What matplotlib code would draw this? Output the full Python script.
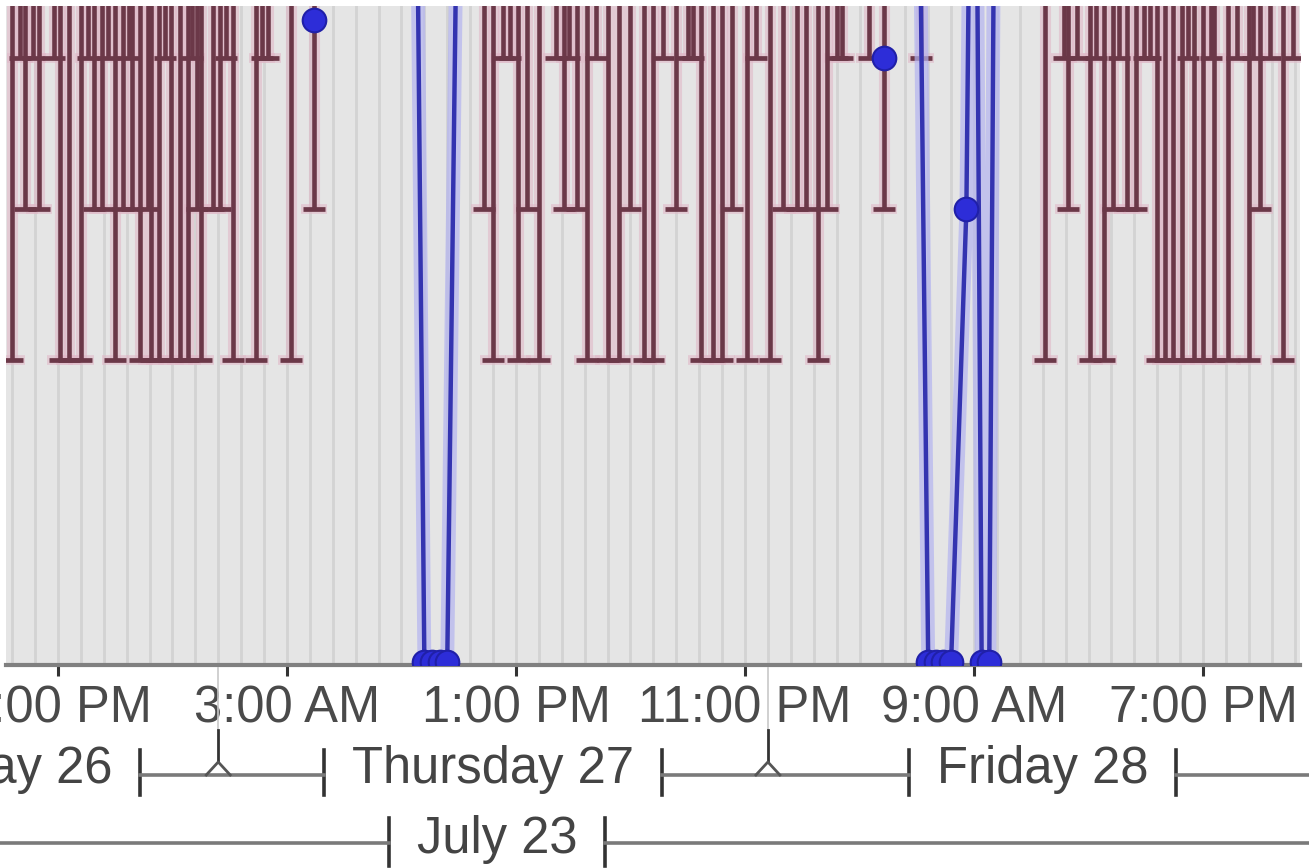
import numpy as np
import pandas as pd
import matplotlib
matplotlib.use("Agg")
import matplotlib.pyplot as plt
import matplotlib.dates as mdates
from matplotlib.transforms import blended_transform_factory

W, H, DPI = 1309, 868, 100

# interval bars (dark red): time and lower end, upper end is off the chart
bar_times = [
    "07-26 15:00", "07-26 15:20", "07-26 15:35", "07-26 15:55", "07-26 16:10",
    "07-26 16:50", "07-26 17:05", "07-26 17:30", "07-26 18:00", "07-26 18:20",
    "07-26 18:35", "07-26 18:55", "07-26 19:10", "07-26 19:30", "07-26 19:50",
    "07-26 20:05", "07-26 20:15", "07-26 20:35", "07-26 20:55", "07-26 21:05",
    "07-26 21:25", "07-26 21:40", "07-26 21:55", "07-26 22:20", "07-26 22:40",
    "07-26 22:50", "07-26 23:05", "07-26 23:15", "07-26 23:45",
    "07-27 00:05", "07-27 00:20", "07-27 00:40", "07-27 01:40", "07-27 01:55",
    "07-27 02:10", "07-27 03:10", "07-27 04:10", "07-27 11:35", "07-27 12:00",
    "07-27 12:25", "07-27 12:45", "07-27 13:05", "07-27 13:30", "07-27 14:00",
    "07-27 14:45", "07-27 15:05", "07-27 15:20", "07-27 15:40", "07-27 16:05",
    "07-27 16:30", "07-27 17:00", "07-27 17:30", "07-27 18:00", "07-27 18:35",
    "07-27 19:00", "07-27 19:25", "07-27 20:00", "07-27 20:30", "07-27 20:45",
    "07-27 21:05", "07-27 21:35", "07-27 22:00", "07-27 22:25", "07-27 23:05",
    "07-27 23:30",
    "07-28 00:05", "07-28 00:40", "07-28 01:15", "07-28 01:40", "07-28 02:10",
    "07-28 02:35", "07-28 03:00", "07-28 03:15", "07-28 04:25", "07-28 05:05",
    "07-28 06:40", "07-28 12:05", "07-28 12:55", "07-28 13:05", "07-28 13:30",
    "07-28 14:05", "07-28 14:20", "07-28 14:40", "07-28 15:05", "07-28 15:20",
    "07-28 15:40", "07-28 16:05", "07-28 16:25", "07-28 16:40", "07-28 17:00",
    "07-28 17:20", "07-28 17:40", "07-28 18:05", "07-28 18:20", "07-28 18:35",
    "07-28 19:00", "07-28 19:20", "07-28 19:30", "07-28 20:05", "07-28 20:30",
    "07-28 21:00", "07-28 21:10", "07-28 21:30", "07-28 21:55", "07-28 22:30",
    "07-28 22:55",
]
bar_lows = [
    2, 4, 3, 4, 3, 4, 2, 2, 2, 4, 3, 3, 4, 2, 3, 4, 3, 2, 3, 2,
    2, 4, 2, 2, 2, 4, 3, 2, 3,
    3, 4, 2, 2, 4, 4, 2, 3, 3, 2, 4, 4, 2, 3, 2, 4, 3, 4, 3, 2,
    4, 2, 2, 3, 2, 2, 4, 3, 4, 4, 2, 2, 2, 3, 2, 4,
    2, 3, 3, 3, 2, 3, 4, 4, 4, 3, 4, 2, 4, 3, 4, 2, 4, 2, 3, 4,
    3, 3, 4, 4, 2, 2, 2, 2, 4, 2, 2, 4, 2, 2, 4, 2, 4, 3, 4, 2,
    4,
]
BAR_SPAN = 10

# blue line series (None = gap)
line_times = [
    "07-27 04:10", "07-27 06:00",
    "07-27 08:30", "07-27 09:00", "07-27 09:20", "07-27 09:40", "07-27 10:00",
    "07-27 10:40", "07-27 12:00",
    "07-28 05:05", "07-28 06:00",
    "07-28 06:25", "07-28 07:00", "07-28 07:20", "07-28 07:40", "07-28 08:00",
    "07-28 08:40", "07-28 09:00", "07-28 09:20", "07-28 09:40", "07-28 10:00",
]
line_values = [
    4.25, None,
    8, 0, 0, 0, 0, 8, None,
    4.0, None,
    8, 0, 0, 0, 0, 3, 8, 0, 0, 8,
]

tick_times = ["07-26 17:00", "07-27 03:00", "07-27 13:00",
              "07-27 23:00", "07-28 09:00", "07-28 19:00"]
day_labels = ["Wednesday 26", "Thursday 27", "Friday 28"]
day_centers = ["07-26 12:00", "07-27 12:00", "07-28 12:00"]
day_breaks = ["07-27 00:00", "07-28 00:00"]
month_label = "July 23"
month_center = "07-27 12:10"
x_start, x_end = "07-26 14:44", "07-28 23:14"

FS = 36.5


def tnum(s):
    return mdates.date2num(pd.Timestamp("2023-" + s))


plt.rcParams["font.family"] = ["Liberation Sans", "DejaVu Sans"]

fig = plt.figure(figsize=(W / DPI, H / DPI), dpi=DPI)
ax = fig.add_axes([6 / W, (H - 665) / H, (1300 - 6) / W, (665 - 6) / H])
ax.set_facecolor("#e5e5e5")

bx = [tnum(t) for t in bar_times]
zeros = np.zeros(len(bx))
span = np.full(len(bx), BAR_SPAN)
ax.errorbar(bx, bar_lows, yerr=[zeros, span], fmt="none", ecolor="#e0b8c8",
            elinewidth=8, capsize=9.5, capthick=7, alpha=0.6, zorder=3)
ax.errorbar(bx, bar_lows, yerr=[zeros, span], fmt="none", ecolor="#6b3848",
            elinewidth=3.3, capsize=8, capthick=3.4, zorder=4)

lx = [tnum(t) for t in line_times]
lv = np.array([np.nan if v is None else v for v in line_values], dtype=float)
ax.plot(lx, lv, color="#b4b4f0", lw=10, alpha=0.7, zorder=5,
        solid_capstyle="butt")
ax.plot(lx, lv, color="#3434b0", lw=3.2, marker="o", ms=17,
        mfc="#2d2dd8", mec="#2020a8", mew=1.5, zorder=6)

ax.set_xlim(tnum(x_start), tnum(x_end))
ax.set_ylim(-3 / 151, 656 / 151)

ax.xaxis.set_major_locator(matplotlib.ticker.FixedLocator([tnum(t) for t in tick_times]))
ax.xaxis.set_major_formatter(mdates.DateFormatter("%-I:%M %p"))
ax.xaxis.set_minor_locator(mdates.HourLocator())
ax.grid(True, which="both", axis="x", color="#d3d3d3", lw=2.0, zorder=0)
ax.set_axisbelow(True)
ax.tick_params(axis="x", which="major", length=8, width=2.2, color="#333333",
               pad=6, labelsize=FS, labelcolor="#4a4a4a")
ax.tick_params(axis="x", which="minor", length=0)
ax.set_yticks([])
for side in ("left", "top", "right"):
    ax.spines[side].set_visible(False)
ax.spines["bottom"].set_color("#808080")
ax.spines["bottom"].set_linewidth(3)

# period bands under the axis
trans = blended_transform_factory(ax.transData, fig.transFigure)


def fy(p):
    return 1 - p / H


def px2x(p):
    return ax.transData.inverted().transform((p, 0))[0]


def draw_band(labels, centers, y_text, y_line, y_bar0, y_bar1, pad=28):
    texts = [ax.text(tnum(c), fy(y_text), lab, transform=trans, ha="center",
                     va="center", fontsize=FS, color="#444444")
             for lab, c in zip(labels, centers)]
    fig.canvas.draw()
    edges = []
    for t in texts:
        bb = t.get_window_extent()
        left, right = px2x(bb.x0 - pad), px2x(bb.x1 + pad)
        edges.append((left, right))
        for xb in (left, right):
            ax.plot([xb, xb], [fy(y_bar0), fy(y_bar1)], transform=trans,
                    color="#333333", lw=2.6, clip_on=False)
    segs = [(px2x(-50), edges[0][0])]
    segs += [(edges[i][1], edges[i + 1][0]) for i in range(len(edges) - 1)]
    segs.append((edges[-1][1], px2x(W + 50)))
    for a, b in segs:
        ax.plot([a, b], [fy(y_line), fy(y_line)], transform=trans,
                color="#7a7a7a", lw=2.6, clip_on=False)


draw_band(day_labels, day_centers, 770, 775, 750, 795)
draw_band([month_label], [month_center], 840, 843, 818, 866)

leg = px2x(12) - px2x(0)
for d in day_breaks:
    xd = tnum(d)
    ax.plot([xd, xd], [fy(668), fy(730)], transform=trans, color="#c8c8c8",
            lw=1.2, clip_on=False)
    ax.plot([xd, xd], [fy(730), fy(762)], transform=trans, color="#333333",
            lw=2.0, clip_on=False)
    ax.plot([xd - leg, xd, xd + leg], [fy(775), fy(762), fy(775)],
            transform=trans, color="#555555", lw=2.0, clip_on=False)

fig.savefig("out.png", dpi=DPI, facecolor="white")
